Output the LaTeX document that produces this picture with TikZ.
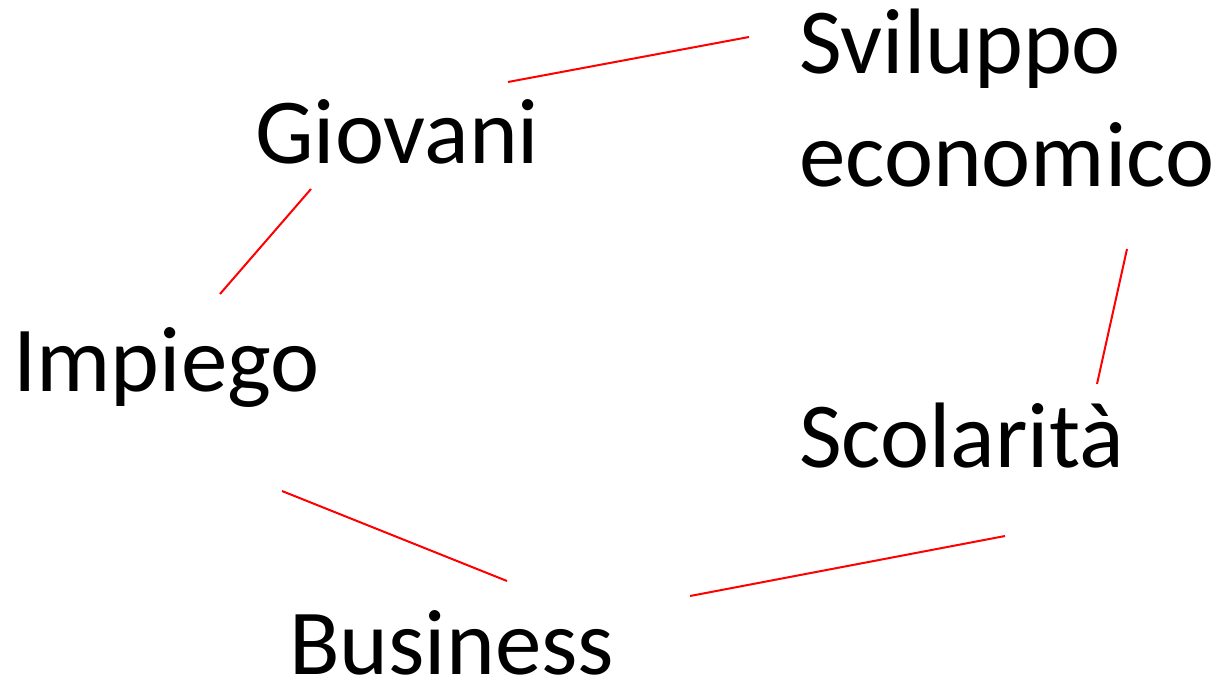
\documentclass[tikz,border=0pt]{standalone}
\usepackage{fontspec}
\setmainfont{Carlito}
\usetikzlibrary{positioning}

\begin{document}
\begin{tikzpicture}[x=1pt,y=-1pt,
  every node/.style={inner sep=0pt,anchor=base west,font=\fontsize{93}{113}\selectfont},
  link/.style={red,line width=2pt}]
\useasboundingbox (0,0) rectangle (1221,682);
\node (G) at (255,164) {Giovani};
\node[align=left] (S) at (799,186) {Sviluppo\\economico};
\node (I) at (13,391) {Impiego};
\node (C) at (799,467) {Scolarità};
\node (B) at (289,674) {Business};
% free ends of the links
\coordinate (gs) at (508,82);
\coordinate (sg) at (749,37);
\coordinate (sc) at (1127,249);
\coordinate (cs) at (1097,384);
\coordinate (cb) at (1005,536);
\coordinate (bc) at (690,596);
\coordinate (bi) at (507,581);
\coordinate (ib) at (282,491);
\coordinate (ig) at (220,294);
\coordinate (gi) at (311,189);
\path[link]
(gs) edge (sg)
(sc) edge (cs)
(cb) edge (bc)
(bi) edge (ib)
(ig) edge (gi);
\end{tikzpicture}
\end{document}
